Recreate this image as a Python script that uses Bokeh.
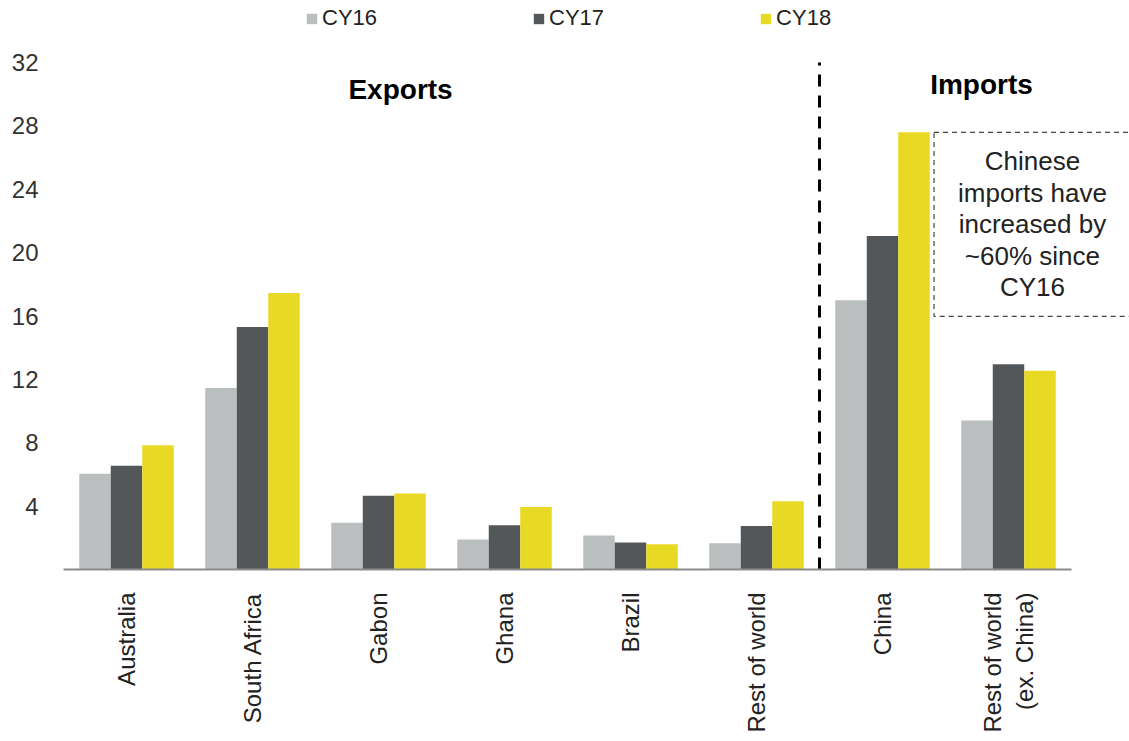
from bokeh.plotting import figure
from bokeh.models import (Range1d, FixedTicker, Legend, LegendItem, Label)
from bokeh.transform import dodge
from bokeh.embed import file_html
from bokeh.resources import INLINE
import math

categories = ["Australia", "South Africa", "Gabon", "Ghana", "Brazil",
              "Rest of world", "China", "Rest of world\n(ex. China)"]
cy16 = [6.05, 11.45, 2.95, 1.9, 2.15, 1.65, 17.0, 9.4]
cy17 = [6.55, 15.3, 4.65, 2.8, 1.7, 2.75, 21.05, 12.95]
cy18 = [7.85, 17.45, 4.8, 3.95, 1.6, 4.3, 27.6, 12.55]
series_names = ["CY16", "CY17", "CY18"]
y_ticks = [4, 8, 12, 16, 20, 24, 28, 32]

colors = ["#BBBEBF", "#54575A", "#E8D924"]
FONT = "Liberation Sans"

positions = list(range(len(categories)))
n = len(categories)
y_top = max(y_ticks)

# frame spans the full canvas above the axis so the legend and the
# annotation box are not clipped; 32 sits 62px below the top edge
p = figure(x_range=Range1d(-0.5, -0.5 + 1066 / 126),
           y_range=Range1d(0, y_top * 569 / 507),
           width=1129, height=741, output_backend="svg",
           toolbar_location=None, tools="",
           min_border_left=63, min_border_right=0,
           min_border_top=0, min_border_bottom=172)
p.outline_line_color = None
p.xgrid.visible = False
p.ygrid.visible = False

data = dict(x=positions, CY16=cy16, CY17=cy17, CY18=cy18)
renderers = []
for name, off, col in zip(series_names, [-0.25, 0.0, 0.25], colors):
    r = p.vbar(x=dodge("x", off), top=name, width=0.25,
               source=data, fill_color=col, line_color=None)
    renderers.append(r)

# x axis: category labels
xa = p.xaxis[0]
xa.ticker = FixedTicker(ticks=positions)
xa.major_label_overrides = {i: c for i, c in zip(positions, categories)}
xa.bounds = (-0.5, n - 0.5)
xa.axis_line_color = "#8C8C8C"
xa.axis_line_width = 2
xa.major_tick_line_color = None
xa.minor_tick_line_color = None
xa.major_label_orientation = math.pi / 2
xa.major_label_standoff = 17
xa.major_label_text_font = FONT
xa.major_label_text_font_size = "24px"
xa.major_label_text_color = "#222222"

ya = p.yaxis[0]
ya.ticker = FixedTicker(ticks=y_ticks)
ya.axis_line_color = None
ya.major_tick_line_color = None
ya.minor_tick_line_color = None
ya.major_label_standoff = 19
ya.major_label_text_font = FONT
ya.major_label_text_font_size = "24px"
ya.major_label_text_color = "#333333"

# divider between exports and imports
p.segment(x0=[5.5], y0=[0], x1=[5.5], y1=[y_top], line_color="black",
          line_width=3, line_dash="12 9")

# section titles
p.add_layout(Label(x=2.175, y=30.3, text="Exports", text_align="center",
                   text_baseline="middle", text_font=FONT,
                   text_font_size="28px", text_font_style="bold",
                   text_color="black"))
p.add_layout(Label(x=6.786, y=30.6, text="Imports", text_align="center",
                   text_baseline="middle", text_font=FONT,
                   text_font_size="28px", text_font_style="bold",
                   text_color="black"))

# annotation box
p.add_layout(Label(x=7.19, y=27.59,
                   text="Chinese\nimports have\nincreased by\n~60% since\nCY16",
                   text_align="center", text_baseline="top", text_font=FONT,
                   text_font_size="26px", text_color="#222222",
                   text_line_height=1.05,
                   border_line_color="#444444", border_line_dash="5 4",
                   border_line_width=1.2, padding=(24, 14)))

# legend at the top
legend = Legend(items=[LegendItem(label=s, renderers=[r])
                       for s, r in zip(series_names, renderers)],
                orientation="horizontal", location=(242, 538),
                glyph_width=13, glyph_height=13, label_standoff=4,
                spacing=155, padding=0, margin=0,
                border_line_color=None, background_fill_alpha=0,
                label_text_font=FONT, label_text_font_size="22px",
                label_text_color="#222222", label_height=20)
p.add_layout(legend, "center")

open("out.html", "w").write(file_html(p, INLINE))
